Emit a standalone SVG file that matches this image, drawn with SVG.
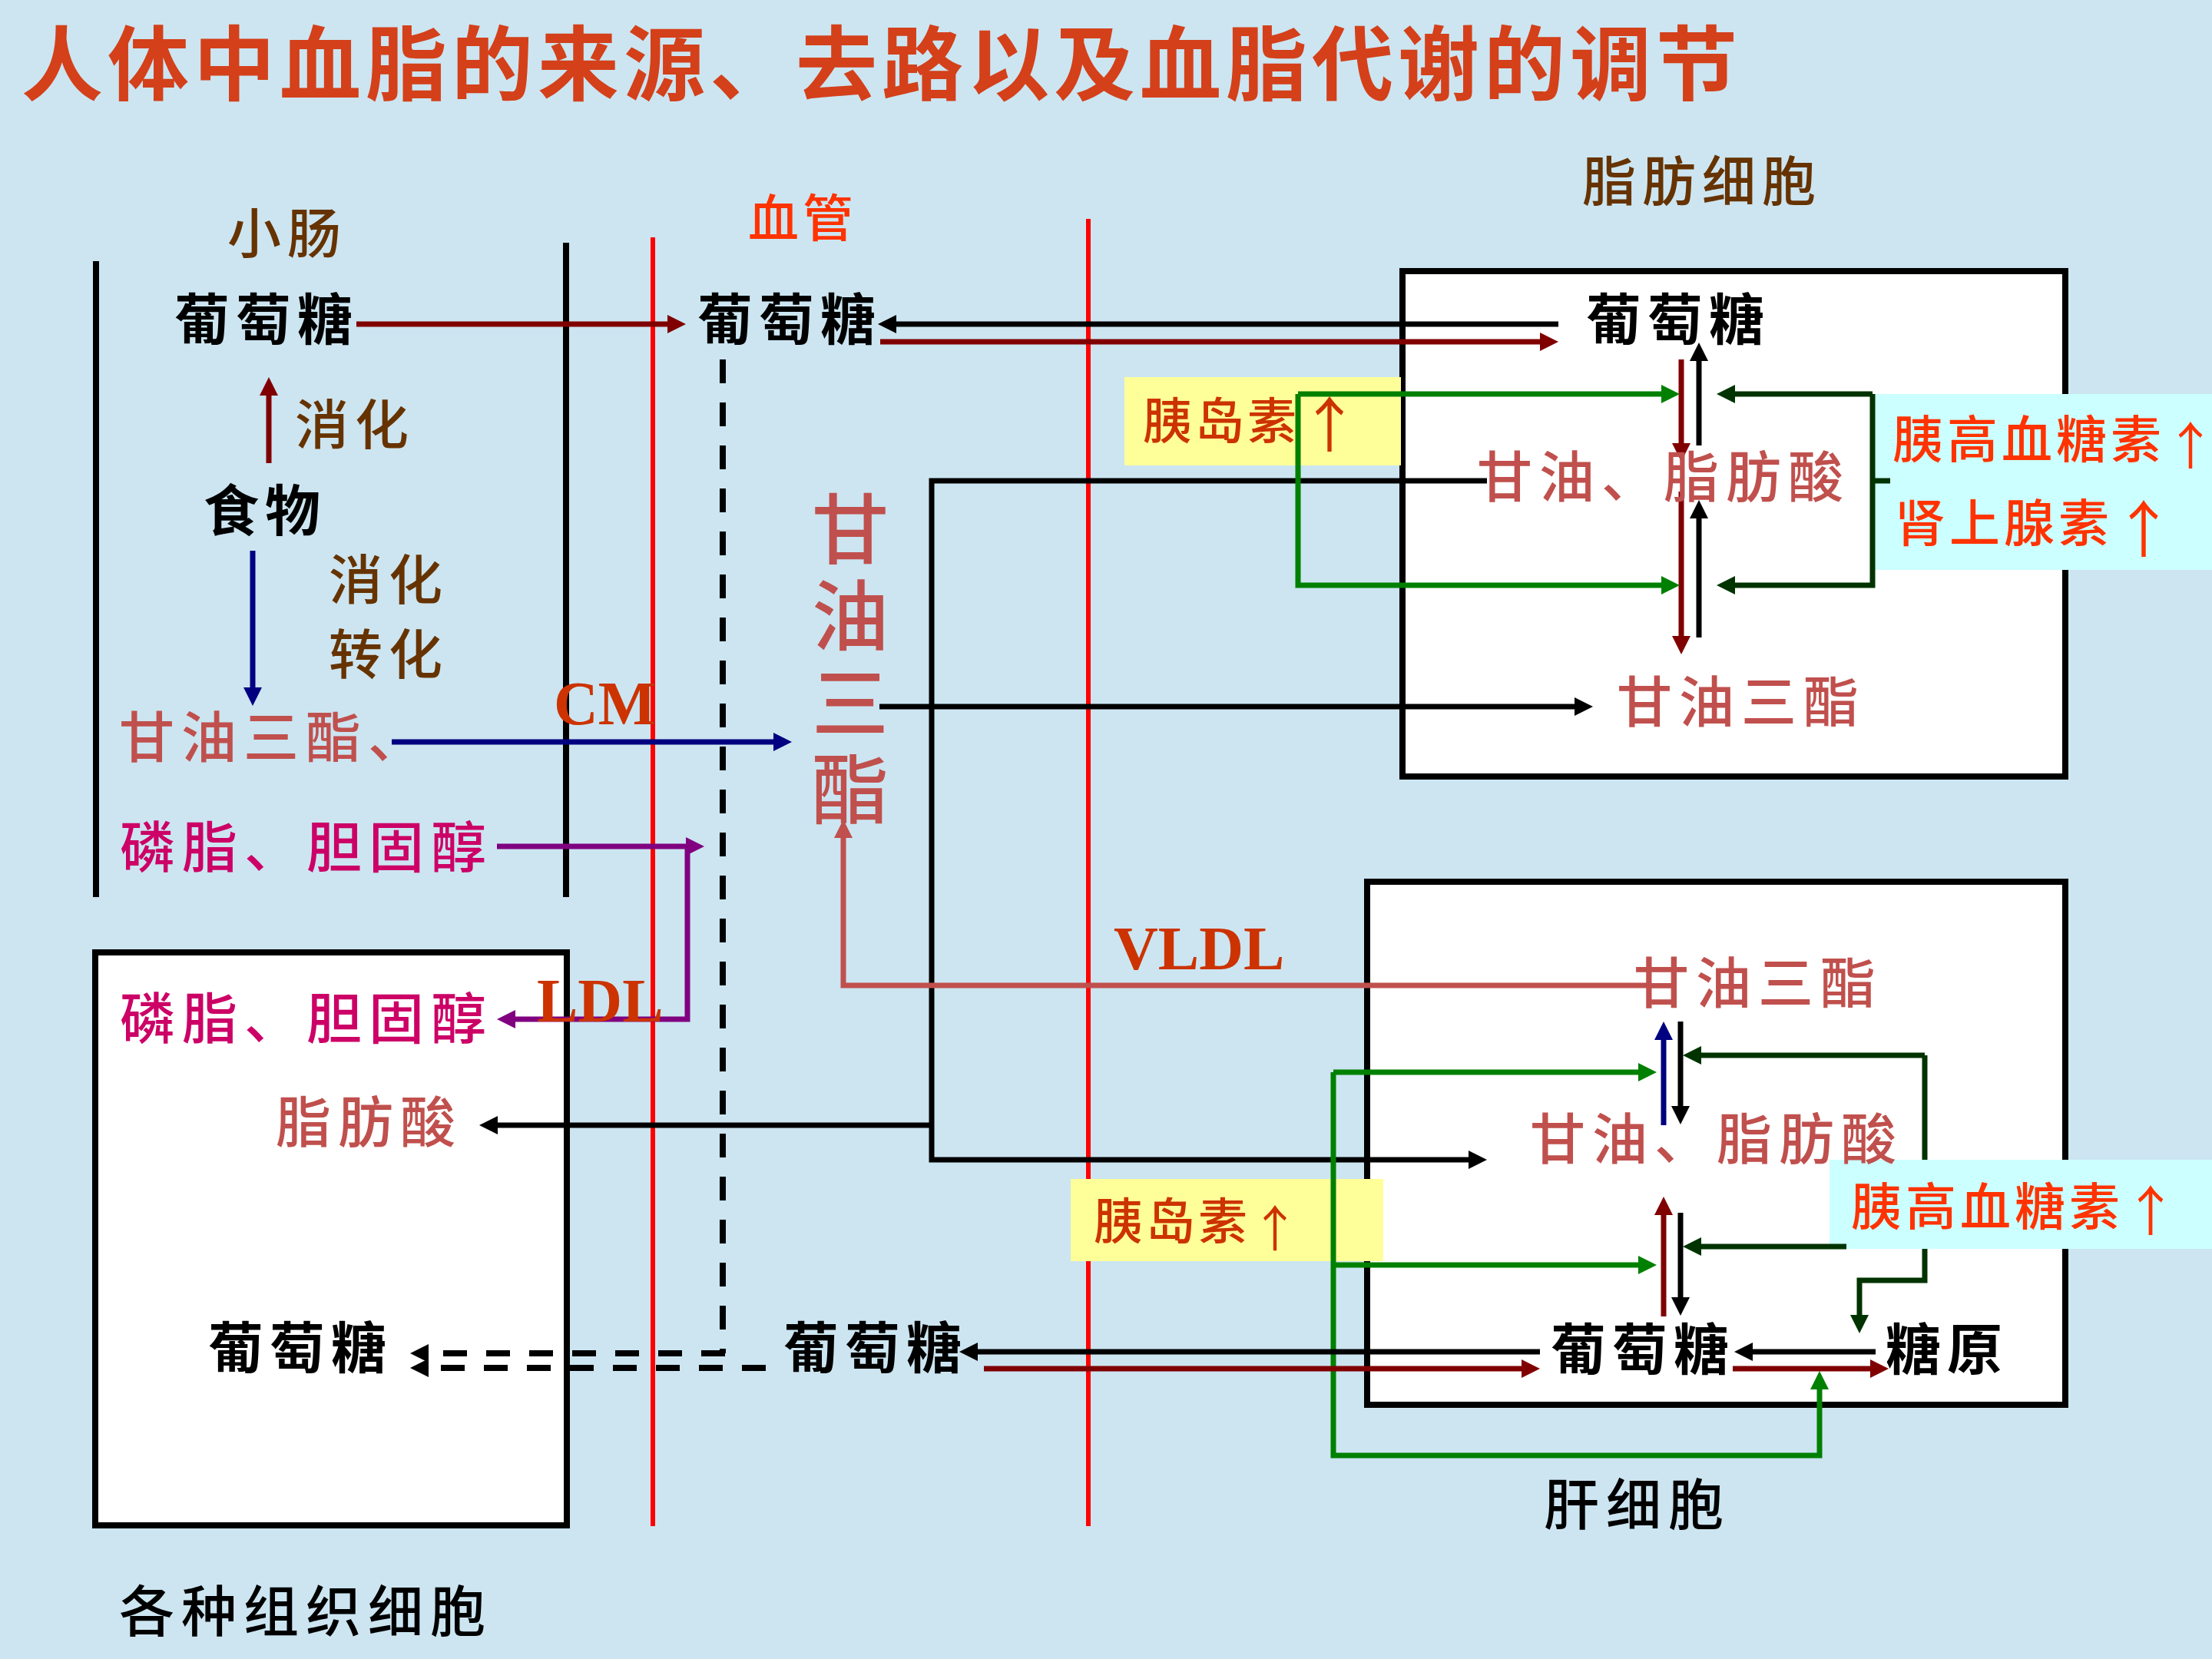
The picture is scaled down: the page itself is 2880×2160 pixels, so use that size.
<svg xmlns="http://www.w3.org/2000/svg" width="2880" height="2160" viewBox="0 0 2880 2160">
<defs>
<style>
.t{font-family:"Noto Sans CJK SC","Noto Sans CJK JP",sans-serif}
.k{fill:#000;font-weight:700;font-size:72px;letter-spacing:8px}
.br{fill:#663300;font-weight:500;font-size:70px;letter-spacing:8px}
.ir{fill:#C0504D;font-weight:500;font-size:72px;letter-spacing:9px}
.mg{fill:#CC0066;font-weight:500;font-size:72px;letter-spacing:9px}
.or{fill:#FF3300;font-weight:500;font-size:66px;letter-spacing:5px}
.oy{fill:#CC3300;font-weight:500;font-size:64px;letter-spacing:4px}
.lt{font-family:"Liberation Serif","Times New Roman",serif;font-weight:700;font-size:80px;fill:#CC3300}
.ar{font-weight:400;letter-spacing:0}
.cell{fill:#fff;stroke:#000;stroke-width:8}
.wall{stroke:#000;stroke-width:8;fill:none}
.vessel{stroke:#FF0000;stroke-width:6;fill:none}
.c{fill:none;stroke-width:7}
.bk{stroke:#000}.dr{stroke:#800000}.nv{stroke:#000080}.pu{stroke:#800080}
.gr{stroke:#008000}.dg{stroke:#003300}.rd{stroke:#C0504D}
.dash{stroke:#000;stroke-width:8;fill:none;stroke-dasharray:31 25}
</style>
<marker id="mk" markerWidth="24" markerHeight="24" refX="4" refY="12" orient="auto" markerUnits="userSpaceOnUse"><path d="M0,0 L24,12 L0,24 z" fill="#000"/></marker>
<marker id="mdr" markerWidth="24" markerHeight="24" refX="4" refY="12" orient="auto" markerUnits="userSpaceOnUse"><path d="M0,0 L24,12 L0,24 z" fill="#800000"/></marker>
<marker id="mnv" markerWidth="24" markerHeight="24" refX="4" refY="12" orient="auto" markerUnits="userSpaceOnUse"><path d="M0,0 L24,12 L0,24 z" fill="#000080"/></marker>
<marker id="mpu" markerWidth="24" markerHeight="24" refX="4" refY="12" orient="auto" markerUnits="userSpaceOnUse"><path d="M0,0 L24,12 L0,24 z" fill="#800080"/></marker>
<marker id="mgr" markerWidth="24" markerHeight="24" refX="4" refY="12" orient="auto" markerUnits="userSpaceOnUse"><path d="M0,0 L24,12 L0,24 z" fill="#008000"/></marker>
<marker id="mdg" markerWidth="24" markerHeight="24" refX="4" refY="12" orient="auto" markerUnits="userSpaceOnUse"><path d="M0,0 L24,12 L0,24 z" fill="#003300"/></marker>
<marker id="mrd" markerWidth="24" markerHeight="24" refX="4" refY="12" orient="auto" markerUnits="userSpaceOnUse"><path d="M0,0 L24,12 L0,24 z" fill="#C0504D"/></marker>
</defs>

<rect x="0" y="0" width="2880" height="2160" fill="#CCE5F1"/>

<text id="title" class="t" x="28" y="122" font-size="106" font-weight="700" letter-spacing="6" fill="#D4401A">人体中血脂的来源、去路以及血脂代谢的调节</text>

<g id="intestine">
<line class="wall" x1="125" y1="340" x2="125" y2="1168"/>
<line class="wall" x1="737" y1="316" x2="737" y2="1168"/>
<text class="t br" x="296" y="330" letter-spacing="6">小肠</text>
</g>

<g id="vessel">
<line class="vessel" x1="850" y1="309" x2="850" y2="1987"/>
<line class="vessel" x1="1417" y1="285" x2="1417" y2="1987"/>
<text class="t or" x="974" y="308" font-size="70" letter-spacing="6">血管</text>
</g>

<g id="tissue-cell">
<rect class="cell" x="124" y="1240" width="614" height="746"/>
</g>
<g id="adipose-cell">
<rect class="cell" x="1826" y="353" width="863" height="658"/>
</g>
<g id="liver-cell">
<rect class="cell" x="1780" y="1148" width="909" height="681"/>
</g>

<g id="hormone-boxes">
<rect x="1464" y="491" width="360" height="115" fill="#FFFF99"/>
<rect x="2438" y="513" width="442" height="229" fill="#CCFFFF"/>
<rect x="1394" y="1535" width="407" height="107" fill="#FFFF99"/>
<rect x="2382" y="1510" width="498" height="116" fill="#CCFFFF"/>
</g>

<g id="connectors">
<path class="c dr" d="M464 422 H873" marker-end="url(#mdr)"/>
<path class="c bk" d="M2029 422 H1163" marker-end="url(#mk)"/>
<path class="c dr" d="M1146 445 H2009" marker-end="url(#mdr)"/>
<path class="c dr" d="M350 603 V511" marker-end="url(#mdr)"/>
<path class="c nv" d="M329 717 V899" marker-end="url(#mnv)"/>
<path class="c nv" d="M510 966 H1011" marker-end="url(#mnv)"/>
<path class="c pu" d="M647 1102 H897" marker-end="url(#mpu)"/>
<path class="c pu" d="M895 1102 V1327 H667" marker-end="url(#mpu)"/>
<path class="dash" d="M941 468 V1762" stroke-dasharray="32 25"/>
<path class="dash" d="M944 1762 H554" marker-end="url(#mk)"/>
<path class="dash" d="M997 1781 H554" marker-end="url(#mk)"/>
<path class="c bk" d="M1145 920 H2054" marker-end="url(#mk)"/>
<path class="c bk" d="M1936 626 H1213 V1510 H1916" marker-end="url(#mk)"/>
<path class="c bk" d="M1213 1465 H644" marker-end="url(#mk)"/>
<path class="c rd" d="M2144 1283 H1098 V1087" marker-end="url(#mrd)"/>
<path class="c dr" d="M2189 468 V581" marker-end="url(#mdr)"/>
<path class="c dr" d="M2189 640 V832" marker-end="url(#mdr)"/>
<path class="c bk" d="M2212 580 V466" marker-end="url(#mk)"/>
<path class="c bk" d="M2212 830 V671" marker-end="url(#mk)"/>
<path class="c gr" d="M1690 513 H2167" marker-end="url(#mgr)"/>
<path class="c gr" d="M1690 513 V762 H2167" marker-end="url(#mgr)"/>
<path class="c dg" d="M2438 513 H2255" marker-end="url(#mdg)"/>
<path class="c dg" d="M2438 513 V762 H2255" marker-end="url(#mdg)"/>
<path class="c dg" d="M2438 626 H2461"/>
<path class="c nv" d="M2166 1465 V1350" marker-end="url(#mnv)"/>
<path class="c bk" d="M2188 1330 V1444" marker-end="url(#mk)"/>
<path class="c dr" d="M2166 1714 V1578" marker-end="url(#mdr)"/>
<path class="c bk" d="M2188 1579 V1693" marker-end="url(#mk)"/>
<path class="c gr" d="M1736 1396 H2137" marker-end="url(#mgr)"/>
<path class="c gr" d="M1736 1647 H2137" marker-end="url(#mgr)"/>
<path class="c gr" d="M1736 1396 V1895 H2369 V1805" marker-end="url(#mgr)"/>
<path class="c dg" d="M2506 1374 H2211" marker-end="url(#mdg)"/>
<path class="c dg" d="M2506 1374 V1510"/>
<path class="c dg" d="M2506 1626 V1667 H2421 V1716" marker-end="url(#mdg)"/>
<path class="c dg" d="M2404 1623 H2211" marker-end="url(#mdg)"/>
<path class="c bk" d="M2442 1760 H2278" marker-end="url(#mk)"/>
<path class="c dr" d="M2256 1782 H2439" marker-end="url(#mdr)"/>
<path class="c bk" d="M2005 1760 H1269" marker-end="url(#mk)"/>
<path class="c dr" d="M1281 1782 H1985" marker-end="url(#mdr)"/>
</g>

<g id="n-int-glucose"><text class="t k" x="227" y="442">葡萄糖</text></g>
<g id="n-digest1"><text class="t br" x="384" y="579" letter-spacing="9">消化</text></g>
<g id="n-food"><text class="t k" x="265" y="691" font-size="74" letter-spacing="10">食物</text></g>
<g id="n-digest2"><text class="t br" x="428" y="781" letter-spacing="10">消化</text><text class="t br" x="428" y="878" letter-spacing="10">转化</text></g>
<g id="n-int-tg"><text class="t ir" x="155" y="986" font-size="66" letter-spacing="4">甘油三酯、</text></g>
<g id="n-int-pl"><text class="t mg" x="156" y="1129">磷脂、胆固醇</text></g>
<g id="n-cm"><text class="lt" x="721" y="943">CM</text></g>
<g id="n-ldl"><text class="lt" x="699" y="1330">LDL</text></g>
<g id="n-vldl"><text class="lt" x="1450" y="1262">VLDL</text></g>
<g id="n-blood-glucose"><text class="t k" x="908" y="442">葡萄糖</text></g>
<g id="n-blood-tg"><text class="t" fill="#C0504D" font-weight="500" font-size="100" letter-spacing="13" writing-mode="vertical-rl" x="1107" y="638">甘油三酯</text></g>
<g id="n-blood-glucose2"><text class="t k" x="1020" y="1781">葡萄糖</text></g>
<g id="n-tis-pl"><text class="t mg" x="156" y="1352">磷脂、胆固醇</text></g>
<g id="n-tis-fa"><text class="t ir" x="359" y="1487" letter-spacing="12">脂肪酸</text></g>
<g id="n-tis-glucose"><text class="t k" x="271" y="1781">葡萄糖</text></g>
<g id="n-tis-label"><text class="t" x="155" y="2124" font-size="72" font-weight="500" letter-spacing="9" fill="#000">各种组织细胞</text></g>
<g id="n-adi-label"><text class="t br" x="2060" y="262" font-size="72" letter-spacing="10">脂肪细胞</text></g>
<g id="n-adi-glucose"><text class="t k" x="2065" y="442">葡萄糖</text></g>
<g id="n-adi-fa"><text class="t ir" x="1923" y="647">甘油、脂肪酸</text></g>
<g id="n-adi-tg"><text class="t ir" x="2105" y="940" letter-spacing="10">甘油三酯</text></g>
<g id="n-adi-ins"><text class="t oy" x="1488" y="571">胰岛素<tspan class="ar" y="582" font-size="78">↑</tspan></text></g>
<g id="n-adi-glu"><text class="t or" x="2464" y="596">胰高血糖素<tspan class="ar" y="605">↑</tspan></text><text class="t or" x="2467" y="705" letter-spacing="3">肾上腺素<tspan class="ar" y="718" font-size="80">↑</tspan></text></g>
<g id="n-liv-tg"><text class="t ir" x="2127" y="1306" letter-spacing="10">甘油三酯</text></g>
<g id="n-liv-fa"><text class="t ir" x="1992" y="1509">甘油、脂肪酸</text></g>
<g id="n-liv-glucose"><text class="t k" x="2019" y="1783">葡萄糖</text></g>
<g id="n-liv-glycogen"><text class="t k" x="2455" y="1783">糖原</text></g>
<g id="n-liv-label"><text class="t" x="2010" y="1985" font-size="72" font-weight="500" letter-spacing="9" fill="#000">肝细胞</text></g>
<g id="n-liv-ins"><text class="t oy" x="1424" y="1613">胰岛素<tspan class="ar" y="1623">↑</tspan></text></g>
<g id="n-liv-glu"><text class="t or" x="2410" y="1595" letter-spacing="4">胰高血糖素<tspan class="ar" y="1603" font-size="70">↑</tspan></text></g>
</svg>
